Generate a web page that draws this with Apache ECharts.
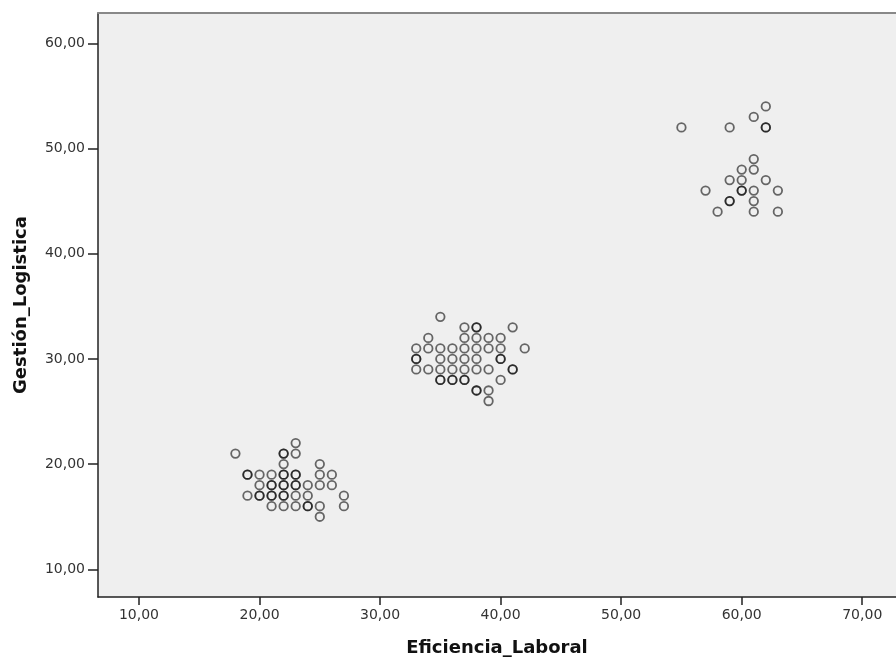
<!DOCTYPE html>
<html>
<head>
<meta charset="utf-8">
<script src="https://cdn.jsdelivr.net/npm/echarts@6/dist/echarts.min.js"></script>
<style>
html,body{margin:0;padding:0;background:#fff;}
#chart{width:896px;height:657px;}
</style>
</head>
<body>
<div id="chart"></div>
<script>
// Eficiencia_Laboral (x) and Gestión_Logistica (y); repeated pairs = overlapping cases
const eficiencia = [
  18, 23, 22, 22, 23, 22, 25,
  19, 19, 20, 21, 22, 22, 23, 23, 25, 26,
  20, 21, 21, 22, 22, 23, 23, 24, 25, 26,
  19, 20, 20, 21, 21, 22, 22, 23, 24, 27,
  21, 22, 23, 24, 24, 25, 27,
  25,
  35,
  37, 38, 38, 41,
  34, 37, 38, 39, 40,
  33, 34, 35, 36, 37, 38, 39, 40, 42,
  33, 33, 35, 36, 37, 38, 40, 40,
  33, 34, 35, 36, 37, 38, 39, 41, 41,
  35, 35, 36, 36, 37, 37, 40,
  38, 38, 39,
  39,
  62, 61, 55, 59, 62, 62, 61, 60, 61, 59, 60, 62,
  57, 60, 60, 61, 63, 59, 59, 61, 58, 61, 63
];
const gestion = [
  21, 22, 21, 21, 21, 20, 20,
  19, 19, 19, 19, 19, 19, 19, 19, 19, 19,
  18, 18, 18, 18, 18, 18, 18, 18, 18, 18,
  17, 17, 17, 17, 17, 17, 17, 17, 17, 17,
  16, 16, 16, 16, 16, 16, 16,
  15,
  34,
  33, 33, 33, 33,
  32, 32, 32, 32, 32,
  31, 31, 31, 31, 31, 31, 31, 31, 31,
  30, 30, 30, 30, 30, 30, 30, 30,
  29, 29, 29, 29, 29, 29, 29, 29, 29,
  28, 28, 28, 28, 28, 28, 28,
  27, 27, 27,
  26,
  54, 53, 52, 52, 52, 52, 49, 48, 48, 47, 47, 47,
  46, 46, 46, 46, 46, 45, 45, 45, 44, 44, 44
];
const xTicks = [10, 20, 30, 40, 50, 60, 70];
const yTicks = [10, 20, 30, 40, 50, 60];
const xTitle = 'Eficiencia_Laboral';
const yTitle = 'Gestión_Logistica';

const points = eficiencia.map((x, i) => [x, gestion[i]]);
const fmt = v => Number(v).toFixed(2).replace('.', ',');
const FONT = 'DejaVu Sans';

const chart = echarts.init(document.getElementById('chart'));
chart.setOption({
  animation: false,
  backgroundColor: '#ffffff',
  grid: {
    left: 98, right: 0, top: 13, bottom: 60,
    containLabel: false, outerBoundsMode: 'none',
    show: true, backgroundColor: '#efefef', borderWidth: 0
  },
  xAxis: [{
    type: 'value', min: 6.6, max: 72.8,
    name: xTitle, nameLocation: 'middle', nameGap: 42,
    nameTextStyle: {fontFamily: FONT, fontWeight: 'bold', fontSize: 18, color: '#111'},
    axisLine: {show: true, lineStyle: {color: '#222', width: 1.5}},
    axisTick: {show: true, length: 8, customValues: xTicks, lineStyle: {color: '#222', width: 1.5}},
    axisLabel: {customValues: xTicks, formatter: fmt, margin: 11, fontFamily: FONT, fontSize: 14, color: '#333'},
    splitLine: {show: false}
  }, {
    type: 'value', position: 'top', min: 6.6, max: 72.8,
    axisLine: {show: true, lineStyle: {color: '#888', width: 2}},
    axisTick: {show: false}, axisLabel: {show: false}, splitLine: {show: false}
  }],
  yAxis: {
    type: 'value', min: 7.37, max: 62.88,
    name: yTitle, nameLocation: 'middle', nameGap: 68, nameRotate: 90,
    nameTextStyle: {fontFamily: FONT, fontWeight: 'bold', fontSize: 18, color: '#111'},
    axisLine: {show: true, lineStyle: {color: '#222', width: 1.5}},
    axisTick: {show: true, length: 10, customValues: yTicks, lineStyle: {color: '#222', width: 1.5}},
    axisLabel: {customValues: yTicks, formatter: fmt, margin: 13, fontFamily: FONT, fontSize: 14, color: '#333'},
    splitLine: {show: false}
  },
  series: [{
    type: 'scatter',
    data: points,
    symbol: 'circle',
    symbolSize: 8.5,
    itemStyle: {color: 'rgba(0,0,0,0)', borderColor: 'rgba(0,0,0,0.72)', borderWidth: 1.8}
  }]
});
</script>
</body>
</html>
